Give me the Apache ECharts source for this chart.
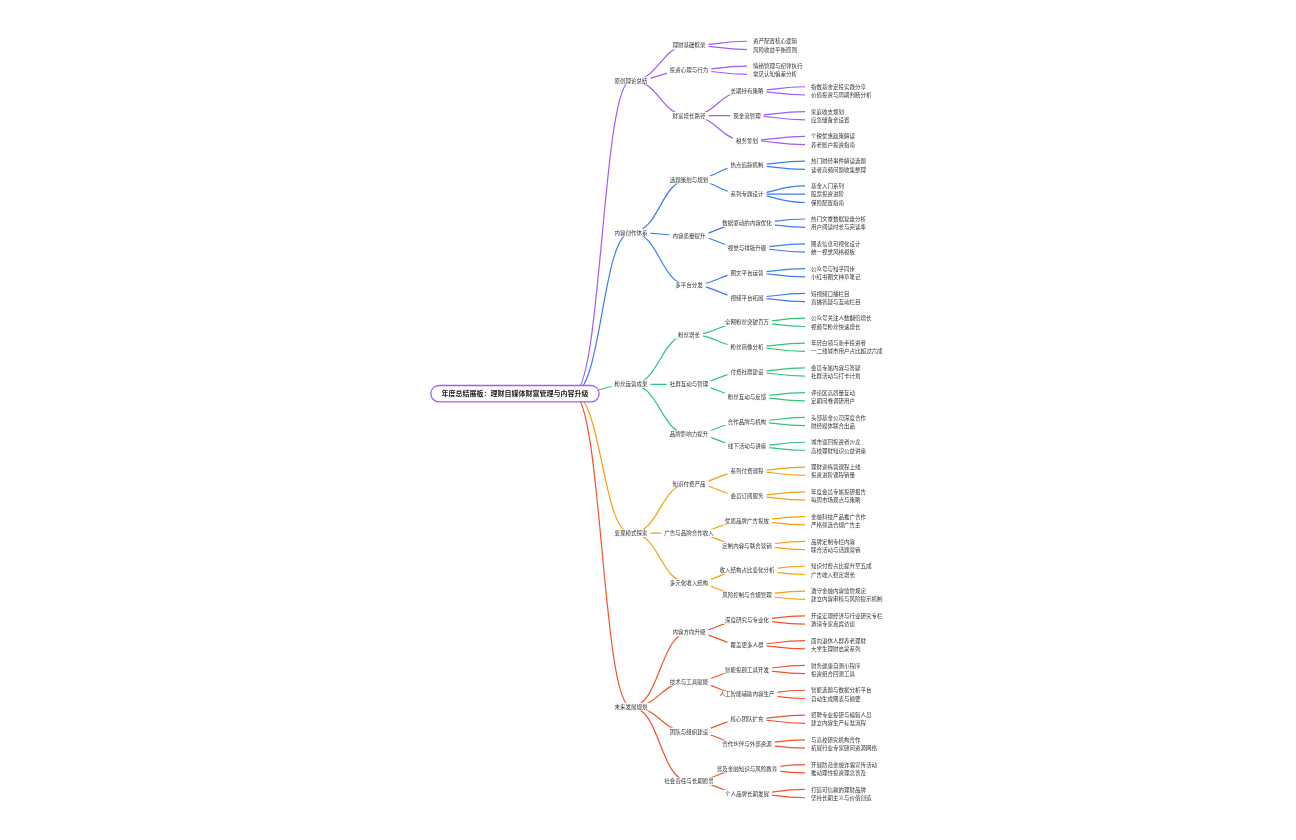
<!DOCTYPE html>
<html><head><meta charset="utf-8">
<script src="https://cdn.jsdelivr.net/npm/echarts@6/dist/echarts.min.js"></script>
<style>html,body{margin:0;background:#fff}#c{width:1296px;height:840px}</style>
</head><body><div id="c"></div>
<script>
const rootTitle = '年度总结展板：理财自媒体财富管理与内容升级';
const branchNames = ['原创理论总结','内容创作体系','粉丝运营成果','变现模式探索','未来发展规划'];
const branchColors = ['#a15cf5','#3b7cf0','#2fc47a','#f5a00a','#f4512c'];
const branch1 = [
  ['理财基础框架',['资产配置核心逻辑','风险收益平衡原则']],
  ['投资心理与行为',['情绪管理与纪律执行','常见认知偏差分析']],
  ['财富增长路径',[
    ['长期持有策略',['指数基金定投实践分享','价值投资与周期判断分析']],
    ['现金流管理',['家庭收支规划','应急储备金设置']],
    ['税务筹划',['个税优惠政策解读','养老账户投资指南']]]]
];
const branch2 = [
  ['选题策划与规划',[
    ['热点追踪机制',['热门财经事件解读选题','读者高频问题收集整理']],
    ['系列专题设计',['基金入门系列','股票投资进阶','保险配置指南']]]],
  ['内容质量提升',[
    ['数据驱动的内容优化',['热门文章数据复盘分析','用户阅读时长与完读率']],
    ['视觉与排版升级',['图表信息可视化设计','统一视觉风格模板']]]],
  ['多平台分发',[
    ['图文平台运营',['公众号与知乎同步','小红书图文种草笔记']],
    ['视频平台拓展',['短视频口播栏目','直播答疑与互动栏目']]]]
];
const branch3 = [
  ['粉丝增长',[
    ['全网粉丝突破百万',['公众号关注人数翻倍增长','视频号粉丝快速增长']],
    ['粉丝画像分析',['年轻白领与新手投资者','一二线城市用户占比超过六成']]]],
  ['社群互动与管理',[
    ['付费社群建设',['会员专属内容与答疑','社群活动与打卡计划']],
    ['粉丝互动与反馈',['评论区高质量互动','定期问卷调研用户']]]],
  ['品牌影响力提升',[
    ['合作品牌与机构',['头部基金公司深度合作','财经媒体联合出品']],
    ['线下活动与讲座',['城市巡回投资者沙龙','高校理财知识公益讲座']]]]
];
const branch4 = [
  ['知识付费产品',[
    ['系列付费课程',['理财训练营课程上线','投资进阶课程销量']],
    ['会员订阅服务',['年度会员专属投研报告','每周市场观点与策略']]]],
  ['广告与品牌合作收入',[
    ['优质品牌广告投放',['金融科技产品推广合作','严格筛选合规广告主']],
    ['定制内容与联合营销',['品牌定制专栏内容','联合活动与话题营销']]]],
  ['多元化收入结构',[
    ['收入结构占比变化分析',['知识付费占比提升至五成','广告收入稳定增长']],
    ['风险控制与合规管理',['遵守金融内容监管规定','建立内容审核与风险提示机制']]]]
];
const branch5 = [
  ['内容方向升级',[
    ['深度研究与专业化',['开设宏观经济与行业研究专栏','邀请专家嘉宾访谈']],
    ['覆盖更多人群',['面向退休人群养老理财','大学生理财启蒙系列']]]],
  ['技术与工具赋能',[
    ['智能投顾工具开发',['财务健康自测小程序','投资组合回测工具']],
    ['人工智能辅助内容生产',['智能选题与数据分析平台','自动生成图表与摘要']]]],
  ['团队与组织建设',[
    ['核心团队扩充',['招聘专业投研与编辑人员','建立内容生产标准流程']],
    ['合作伙伴与外部资源',['与高校研究机构合作','拓展行业专家顾问资源网络']]]],
  ['社会责任与长期愿景',[
    ['普及金融知识与风险教育',['开展防范金融诈骗宣传活动','推动理性投资理念普及']],
    ['个人品牌长期发展',['打造可信赖的理财品牌','坚持长期主义与价值创造']]]]
];
const branches = [branch1, branch2, branch3, branch4, branch5];

function build(item, color) {
  if (typeof item === 'string') {
    return { name: item, lineStyle: { color }, label: { position: 'right', align: 'left', distance: 3 } };
  }
  return { name: item[0], lineStyle: { color }, children: item[1].map(c => build(c, color)) };
}
const data = {
  name: rootTitle,
  label: { fontSize: 7, fontWeight: 'bold', color: '#222', borderColor: '#a15cf5', borderWidth: 1.3,
           borderRadius: 9, padding: [4, 10], backgroundColor: '#fff' },
  children: [{
    name: '', label: { show: false }, lineStyle: { opacity: 0 },
    children: branchNames.map((n, i) => ({ name: n, lineStyle: { color: branchColors[i] },
      children: branches[i].map(c => build(c, branchColors[i])) }))
  }]
};
const chart = echarts.init(document.getElementById('c'));
chart.setOption({
  animation: false,
  series: [{
    type: 'tree', data: [data], orient: 'LR', layout: 'orthogonal', edgeShape: 'curve',
    left: 515, right: 1296 - 805, top: 33, bottom: 34,
    initialTreeDepth: -1, expandAndCollapse: false, roam: false,
    symbol: 'circle', symbolSize: 0.1,
    lineStyle: { width: 1.2, curveness: 0.5 },
    label: { position: 'inside', align: 'center', verticalAlign: 'middle', fontSize: 5.5, color: '#333',
             backgroundColor: '#fff', padding: [1, 3], fontFamily: 'Noto Sans CJK SC' },
    emphasis: { disabled: true }
  }]
});
</script></body></html>
